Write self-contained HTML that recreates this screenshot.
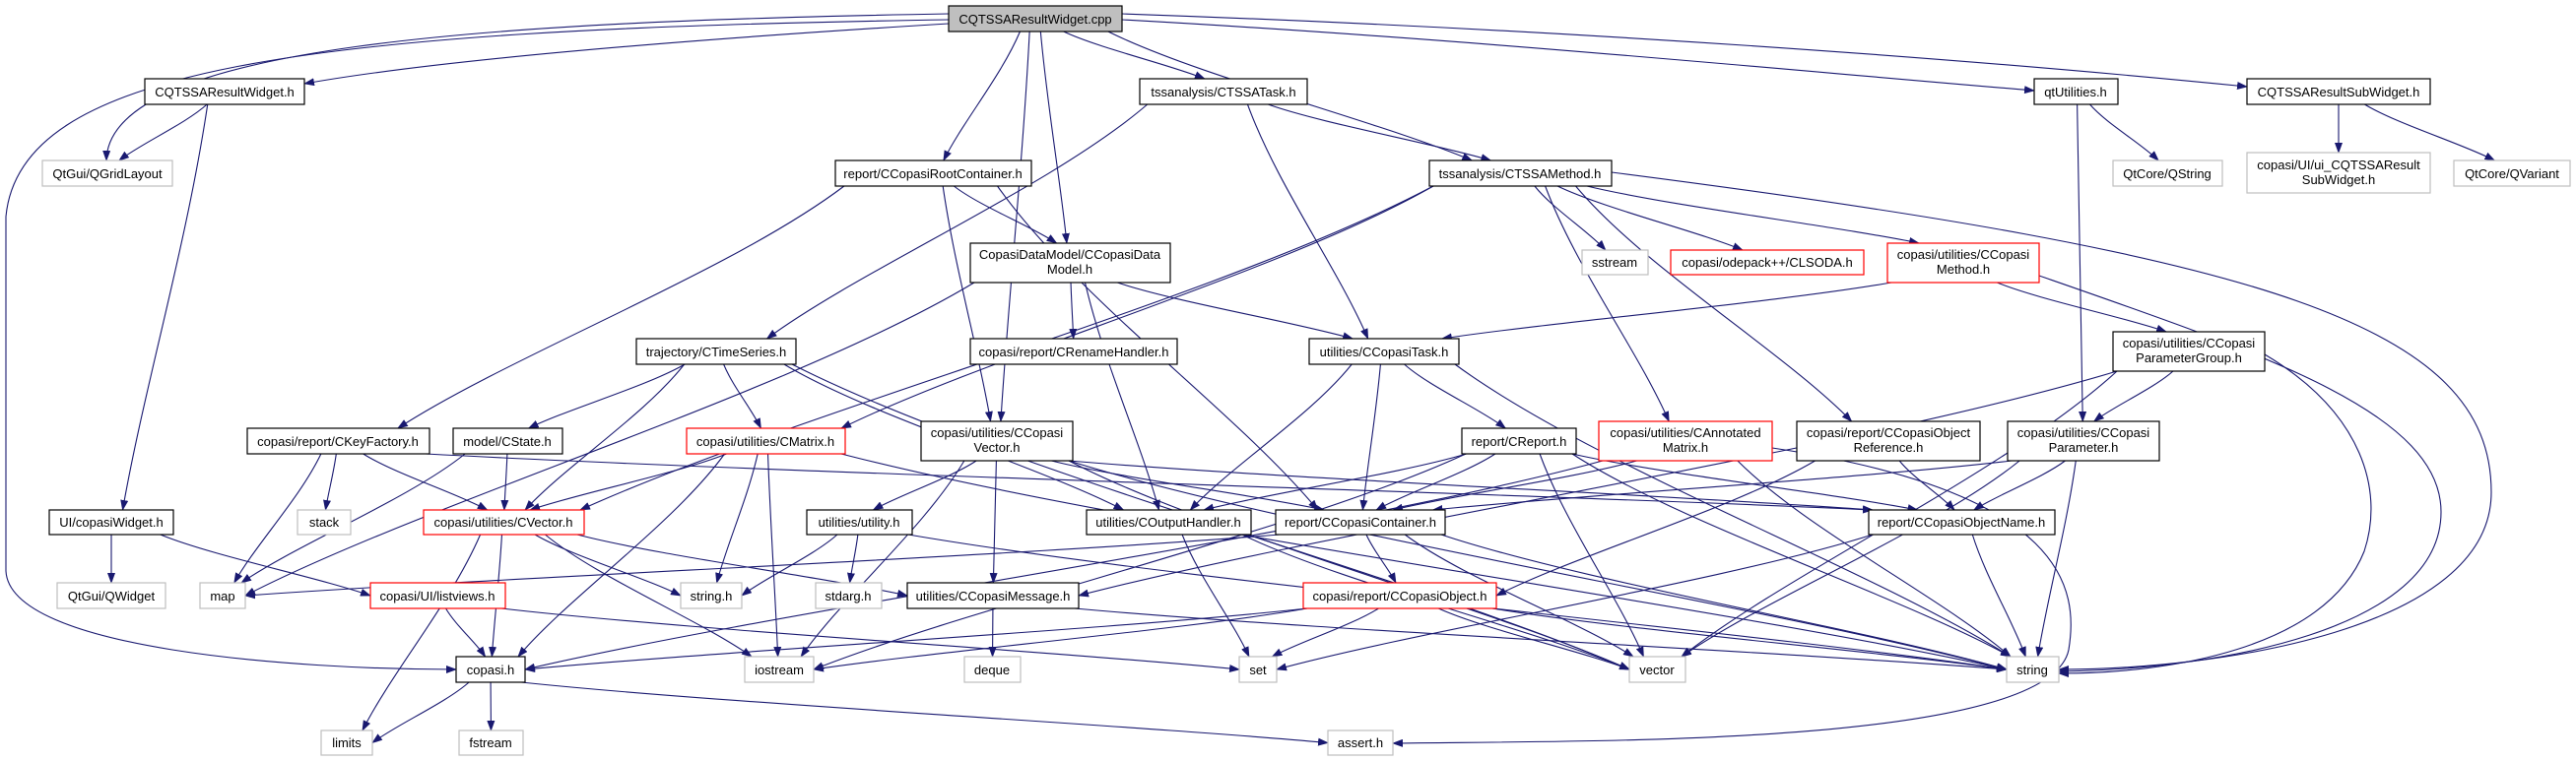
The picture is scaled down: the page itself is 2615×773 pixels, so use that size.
<!DOCTYPE html>
<html><head><meta charset="utf-8">
<style>
html,body{margin:0;padding:0;background:#fff;}
svg{display:block;}
text{font-family:"Liberation Sans",Arial,sans-serif;font-size:13px;fill:#000;}
</style></head>
<body>
<svg id="g" width="2615" height="773" viewBox="0 0 2615 773" xmlns="http://www.w3.org/2000/svg">
<defs>
<marker id="a" markerWidth="11" markerHeight="8" refX="10" refY="4" orient="auto" markerUnits="userSpaceOnUse">
<path d="M0,0 L11,4 L0,8 z" fill="#191970"/>
</marker>
</defs>
<g id="edges" fill="none" stroke="#191970" stroke-width="1.1"></g>
<g id="nodes" stroke-width="1.2">
<rect x="963" y="6" width="176" height="26" fill="#bfbfbf" stroke="#000"/><text x="1051" y="24" text-anchor="middle">CQTSSAResultWidget.cpp</text>
<rect x="147" y="80" width="162" height="26" fill="#fff" stroke="#000"/><text x="228" y="98" text-anchor="middle">CQTSSAResultWidget.h</text>
<rect x="43" y="163" width="132" height="26" fill="#fff" stroke="#bfbfbf"/><text x="109" y="181" text-anchor="middle">QtGui/QGridLayout</text>
<rect x="1157" y="80" width="170" height="26" fill="#fff" stroke="#000"/><text x="1242" y="98" text-anchor="middle">tssanalysis/CTSSATask.h</text>
<rect x="2065" y="80" width="85" height="26" fill="#fff" stroke="#000"/><text x="2107" y="98" text-anchor="middle">qtUtilities.h</text>
<rect x="2281" y="80" width="186" height="26" fill="#fff" stroke="#000"/><text x="2374" y="98" text-anchor="middle">CQTSSAResultSubWidget.h</text>
<rect x="848" y="163" width="199" height="26" fill="#fff" stroke="#000"/><text x="947" y="181" text-anchor="middle">report/CCopasiRootContainer.h</text>
<rect x="1451" y="163" width="185" height="26" fill="#fff" stroke="#000"/><text x="1543" y="181" text-anchor="middle">tssanalysis/CTSSAMethod.h</text>
<rect x="2145" y="163" width="111" height="26" fill="#fff" stroke="#bfbfbf"/><text x="2200" y="181" text-anchor="middle">QtCore/QString</text>
<rect x="2281" y="155" width="186" height="41" fill="#fff" stroke="#bfbfbf"/><text x="2374" y="172" text-anchor="middle">copasi/UI/ui_CQTSSAResult</text><text x="2374" y="187" text-anchor="middle">SubWidget.h</text>
<rect x="2491" y="163" width="118" height="26" fill="#fff" stroke="#bfbfbf"/><text x="2550" y="181" text-anchor="middle">QtCore/QVariant</text>
<rect x="985" y="247" width="203" height="40" fill="#fff" stroke="#000"/><text x="1086" y="263" text-anchor="middle">CopasiDataModel/CCopasiData</text><text x="1086" y="278" text-anchor="middle">Model.h</text>
<rect x="1606" y="254" width="67" height="25" fill="#fff" stroke="#bfbfbf"/><text x="1639" y="271" text-anchor="middle">sstream</text>
<rect x="1696" y="254" width="196" height="25" fill="#fff" stroke="#ff0000"/><text x="1794" y="271" text-anchor="middle">copasi/odepack++/CLSODA.h</text>
<rect x="1916" y="247" width="154" height="40" fill="#fff" stroke="#ff0000"/><text x="1993" y="263" text-anchor="middle">copasi/utilities/CCopasi</text><text x="1993" y="278" text-anchor="middle">Method.h</text>
<rect x="646" y="344" width="162" height="26" fill="#fff" stroke="#000"/><text x="727" y="362" text-anchor="middle">trajectory/CTimeSeries.h</text>
<rect x="985" y="344" width="210" height="26" fill="#fff" stroke="#000"/><text x="1090" y="362" text-anchor="middle">copasi/report/CRenameHandler.h</text>
<rect x="1329" y="344" width="152" height="26" fill="#fff" stroke="#000"/><text x="1405" y="362" text-anchor="middle">utilities/CCopasiTask.h</text>
<rect x="2145" y="337" width="154" height="40" fill="#fff" stroke="#000"/><text x="2222" y="353" text-anchor="middle">copasi/utilities/CCopasi</text><text x="2222" y="368" text-anchor="middle">ParameterGroup.h</text>
<rect x="251" y="435" width="185" height="26" fill="#fff" stroke="#000"/><text x="343" y="453" text-anchor="middle">copasi/report/CKeyFactory.h</text>
<rect x="460" y="435" width="111" height="26" fill="#fff" stroke="#000"/><text x="515" y="453" text-anchor="middle">model/CState.h</text>
<rect x="697" y="435" width="161" height="26" fill="#fff" stroke="#ff0000"/><text x="777" y="453" text-anchor="middle">copasi/utilities/CMatrix.h</text>
<rect x="935" y="428" width="154" height="40" fill="#fff" stroke="#000"/><text x="1012" y="444" text-anchor="middle">copasi/utilities/CCopasi</text><text x="1012" y="459" text-anchor="middle">Vector.h</text>
<rect x="1484" y="435" width="116" height="26" fill="#fff" stroke="#000"/><text x="1542" y="453" text-anchor="middle">report/CReport.h</text>
<rect x="1623" y="428" width="176" height="40" fill="#fff" stroke="#ff0000"/><text x="1711" y="444" text-anchor="middle">copasi/utilities/CAnnotated</text><text x="1711" y="459" text-anchor="middle">Matrix.h</text>
<rect x="1824" y="428" width="186" height="40" fill="#fff" stroke="#000"/><text x="1917" y="444" text-anchor="middle">copasi/report/CCopasiObject</text><text x="1917" y="459" text-anchor="middle">Reference.h</text>
<rect x="2038" y="428" width="154" height="40" fill="#fff" stroke="#000"/><text x="2115" y="444" text-anchor="middle">copasi/utilities/CCopasi</text><text x="2115" y="459" text-anchor="middle">Parameter.h</text>
<rect x="50" y="518" width="126" height="25" fill="#fff" stroke="#000"/><text x="113" y="535" text-anchor="middle">UI/copasiWidget.h</text>
<rect x="302" y="518" width="54" height="25" fill="#fff" stroke="#bfbfbf"/><text x="329" y="535" text-anchor="middle">stack</text>
<rect x="430" y="518" width="163" height="25" fill="#fff" stroke="#ff0000"/><text x="511" y="535" text-anchor="middle">copasi/utilities/CVector.h</text>
<rect x="819" y="518" width="107" height="25" fill="#fff" stroke="#000"/><text x="872" y="535" text-anchor="middle">utilities/utility.h</text>
<rect x="1103" y="518" width="167" height="25" fill="#fff" stroke="#000"/><text x="1186" y="535" text-anchor="middle">utilities/COutputHandler.h</text>
<rect x="1295" y="518" width="172" height="25" fill="#fff" stroke="#000"/><text x="1381" y="535" text-anchor="middle">report/CCopasiContainer.h</text>
<rect x="1897" y="518" width="189" height="25" fill="#fff" stroke="#000"/><text x="1991" y="535" text-anchor="middle">report/CCopasiObjectName.h</text>
<rect x="58" y="592" width="110" height="26" fill="#fff" stroke="#bfbfbf"/><text x="113" y="610" text-anchor="middle">QtGui/QWidget</text>
<rect x="203" y="592" width="46" height="26" fill="#fff" stroke="#bfbfbf"/><text x="226" y="610" text-anchor="middle">map</text>
<rect x="376" y="592" width="137" height="26" fill="#fff" stroke="#ff0000"/><text x="444" y="610" text-anchor="middle">copasi/UI/listviews.h</text>
<rect x="691" y="592" width="62" height="26" fill="#fff" stroke="#bfbfbf"/><text x="722" y="610" text-anchor="middle">string.h</text>
<rect x="828" y="592" width="67" height="26" fill="#fff" stroke="#bfbfbf"/><text x="861" y="610" text-anchor="middle">stdarg.h</text>
<rect x="921" y="592" width="174" height="26" fill="#fff" stroke="#000"/><text x="1008" y="610" text-anchor="middle">utilities/CCopasiMessage.h</text>
<rect x="1323" y="592" width="196" height="26" fill="#fff" stroke="#ff0000"/><text x="1421" y="610" text-anchor="middle">copasi/report/CCopasiObject.h</text>
<rect x="463" y="667" width="70" height="26" fill="#fff" stroke="#000"/><text x="498" y="685" text-anchor="middle">copasi.h</text>
<rect x="756" y="667" width="70" height="26" fill="#fff" stroke="#bfbfbf"/><text x="791" y="685" text-anchor="middle">iostream</text>
<rect x="979" y="667" width="57" height="26" fill="#fff" stroke="#bfbfbf"/><text x="1007" y="685" text-anchor="middle">deque</text>
<rect x="1258" y="667" width="38" height="26" fill="#fff" stroke="#bfbfbf"/><text x="1277" y="685" text-anchor="middle">set</text>
<rect x="1654" y="667" width="57" height="26" fill="#fff" stroke="#bfbfbf"/><text x="1682" y="685" text-anchor="middle">vector</text>
<rect x="2037" y="667" width="53" height="26" fill="#fff" stroke="#bfbfbf"/><text x="2063" y="685" text-anchor="middle">string</text>
<rect x="326" y="742" width="52" height="25" fill="#fff" stroke="#bfbfbf"/><text x="352" y="759" text-anchor="middle">limits</text>
<rect x="466" y="742" width="65" height="25" fill="#fff" stroke="#bfbfbf"/><text x="498" y="759" text-anchor="middle">fstream</text>
<rect x="1348" y="742" width="66" height="25" fill="#fff" stroke="#bfbfbf"/><text x="1381" y="759" text-anchor="middle">assert.h</text>
</g>
</svg>
<script>
var N={
cpp:[963,6,176,26],rw:[147,80,162,26],qgl:[43,163,132,26],task:[1157,80,170,26],qtu:[2065,80,85,26],sub:[2281,80,186,26],
root:[848,163,199,26],meth:[1451,163,185,26],qstr:[2145,163,111,26],ui:[2281,155,186,41],qvar:[2491,163,118,26],
dm:[985,247,203,40],sstream:[1606,254,67,25],lsoda:[1696,254,196,25],cmeth:[1916,247,154,40],ts:[646,344,162,26],
ren:[985,344,210,26],ctask:[1329,344,152,26],pg:[2145,337,154,40],kf:[251,435,185,26],state:[460,435,111,26],
mat:[697,435,161,26],cvec:[935,428,154,40],rep:[1484,435,116,26],am:[1623,428,176,40],oref:[1824,428,186,40],
par:[2038,428,154,40],cw:[50,518,126,25],stack:[302,518,54,25],vec:[430,518,163,25],util:[819,518,107,25],
out:[1103,518,167,25],cont:[1295,518,172,25],oname:[1897,518,189,25],qw:[58,592,110,26],map:[203,592,46,26],
lv:[376,592,137,26],strh:[691,592,62,26],stdarg:[828,592,67,26],msg:[921,592,174,26],obj:[1323,592,196,26],
copasi:[463,667,70,26],iostream:[756,667,70,26],deque:[979,667,57,26],set:[1258,667,38,26],vector:[1654,667,57,26],
string:[2037,667,53,26],limits:[326,742,52,25],fstream:[466,742,65,25],assert:[1348,742,66,25]};
var E=[
"cpp task","cpp root","cpp dm","cpp cvec","cpp meth",
"rw qgl","rw cw","cw qw","cw lv","lv copasi","lv set",
"task ts","task meth","task ctask",
"root kf","root dm","root cvec","root cont",
"dm map","dm ren","dm ctask","dm out",
"meth vec","meth mat","meth sstream","meth lsoda","meth cmeth","meth am","meth oref",
"cmeth ctask","cmeth pg",
"pg par","pg msg","pg vector",
"qtu qstr","qtu par","sub ui","sub qvar",
"ts state","ts vec","ts mat","ts out","ts vector",
"ctask rep","ctask out","ctask cont","ctask string",
"kf map","kf stack","kf vec","kf oname",
"state vec","state map",
"mat vec","mat copasi","mat strh","mat iostream","mat string",
"vec copasi","vec limits","vec strh","vec iostream","vec msg",
"cvec util","cvec msg","cvec vector","cvec cont","cvec iostream","cvec oname","cvec string",
"util strh","util stdarg","util string",
"out set","out vector",
"cont obj","cont map","cont vector","cont string",
"msg deque","msg string",
"obj copasi","obj set","obj vector","obj string","obj iostream",
"rep out","rep cont","rep oname","rep vector","rep string","rep iostream",
"am cont","am copasi","am string",
"oref obj","oref oname",
"par oname","par cont","par vector","par string",
"oname string","oname set",
"copasi limits","copasi fstream","copasi assert"
];
var g=document.getElementById('edges'),ns='http://www.w3.org/2000/svg';
function P(d){var p=document.createElementNS(ns,'path');p.setAttribute('d',d);p.setAttribute('marker-end','url(#a)');g.appendChild(p);}
function cl(v,m){return Math.max(-m,Math.min(m,v));}
E.forEach(function(e){var s=N[e.split(' ')[0]],t=N[e.split(' ')[1]];
 var scx=s[0]+s[2]/2,tcx=t[0]+t[2]/2;
 var sx=scx+cl((tcx-scx)*0.15,s[2]/2-4),sy=s[1]+s[3];
 var tx,ty;
 var dy=t[1]-sy;
 if(t[1]>=590 && Math.abs(tcx-sx)>2.5*dy){
   ty=t[1]+t[3]/2; tx=(tcx>sx)?t[0]:t[0]+t[2];
 } else {
   tx=tcx+cl((scx-tcx)*0.1,t[2]/2-4); ty=t[1];
 }
 var c1x=sx+(tx-sx)*0.25,c1y=sy+(ty-sy)*0.35,c2x=sx+(tx-sx)*0.75,c2y=sy+(ty-sy)*0.7;
 P('M'+sx+','+sy+' C'+c1x+','+c1y+' '+c2x+','+c2y+' '+tx+','+ty);
});
P('M963,24 C700,40 450,60 309,85');
P('M1139,20 C1500,40 1800,70 2065,92');
P('M1139,14 C1600,30 2000,60 2281,88');
P('M963,14 C500,22 110,45 108,163');
P('M963,20 C300,30 20,70 6,220 L6,580 C10,660 300,680 463,680');
P('M1636,175 C2300,260 2529,330 2529,500 C2529,640 2250,680 2090,680');
P('M2070,280 C2300,360 2478,420 2478,520 C2478,640 2250,680 2090,682');
P('M2299,360 C2400,420 2420,500 2400,560 C2360,660 2200,684 2090,684');
P('M1799,455 C2100,500 2110,600 2100,660 C2080,760 1600,752 1414,755');
</script>
</body></html>
